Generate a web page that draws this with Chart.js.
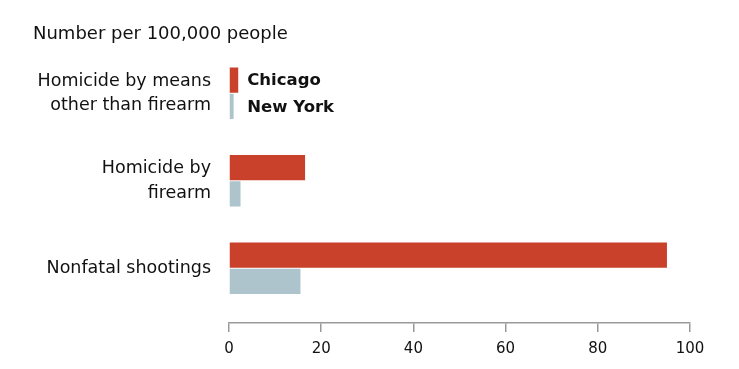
<!DOCTYPE html>
<html>
<head>
<meta charset="utf-8">
<script src="https://cdn.jsdelivr.net/npm/chart.js@4/dist/chart.umd.min.js"></script>
<style>
  html, body { margin: 0; padding: 0; background: #fff; }
  #wrap { width: 739px; height: 369px; }
</style>
</head>
<body>
<div id="wrap"><canvas id="c"></canvas></div>
<script>
// data
const categories = [["Homicide by means", "other than firearm"], ["Homicide by", "firearm"], "Nonfatal shootings"]
const seriesNames = ["Chicago", "New York"]
const chicagoValues = [2, 16.5, 95]
const newYorkValues = [1, 2.5, 15.5]
const xTicks = [0, 20, 40, 60, 80, 100]

const FONT = "'DejaVu Sans', Verdana, sans-serif"

// series names written next to the first pair of bars instead of a legend box
const inlineLegend = {
    id: "inlineLegend",
    afterDatasetsDraw(chart) {
        let ctx = chart.ctx
        let m0 = chart.getDatasetMeta(0).data[0]
        let m1 = chart.getDatasetMeta(1).data[0]
        let x = Math.max(m0.x, m1.x) + 9
        ctx.save()
        ctx.font = "bold 16.5px " + FONT
        ctx.fillStyle = "#111"
        ctx.textBaseline = "middle"
        ctx.textAlign = "left"
        ctx.fillText(seriesNames[0], x, m0.y + 1)
        ctx.fillText(seriesNames[1], x, m1.y + 1)
        ctx.restore()
    }
}

// leave a little gap between the last category and the x axis line
const axisGap = {
    id: "axisGap",
    afterLayout(chart) {
        let y = chart.scales.y
        y.bottom -= 11
        y.height -= 11
        y.configure()
    }
}

let ctx = document.getElementById("c").getContext("2d")
let chart = new Chart(ctx, {
    type: "bar",
    data: {
        labels: categories,
        datasets: [
            {
                label: seriesNames[0],
                data: chicagoValues,
                backgroundColor: "#c9412a",
                categoryPercentage: 0.6,
                barPercentage: 0.96
            },
            {
                label: seriesNames[1],
                data: newYorkValues,
                backgroundColor: "#aec4cd",
                categoryPercentage: 0.6,
                barPercentage: 0.96
            }
        ]
    },
    options: {
        indexAxis: "y",
        responsive: true,
        maintainAspectRatio: false,
        animation: false,
        layout: { padding: { left: 33, right: 49, top: 24, bottom: 3 } },
        plugins: {
            legend: { display: false },
            tooltip: { enabled: false },
            title: {
                display: true,
                text: "Number per 100,000 people",
                align: "start",
                color: "#111",
                font: { family: FONT, size: 18, weight: "normal" },
                padding: { top: 0, bottom: 4 }
            }
        },
        scales: {
            x: {
                min: 0,
                max: 100,
                afterBuildTicks(scale) {
                    scale.ticks = xTicks.map(v => ({ value: v }))
                },
                grid: { drawOnChartArea: false, drawTicks: true, tickLength: 9, color: "#999", lineWidth: 1.5 },
                border: { display: true, color: "#999", width: 1.5 },
                ticks: { color: "#111", padding: 8, maxRotation: 0, font: { family: FONT, size: 15 } }
            },
            y: {
                afterFit(scale) { scale.width = 196 },
                grid: { display: false },
                border: { display: false },
                ticks: { color: "#111", padding: 10, font: { family: FONT, size: 17.5, lineHeight: 1.4 } }
            }
        }
    },
    plugins: [inlineLegend, axisGap]
})
</script>
</body>
</html>
